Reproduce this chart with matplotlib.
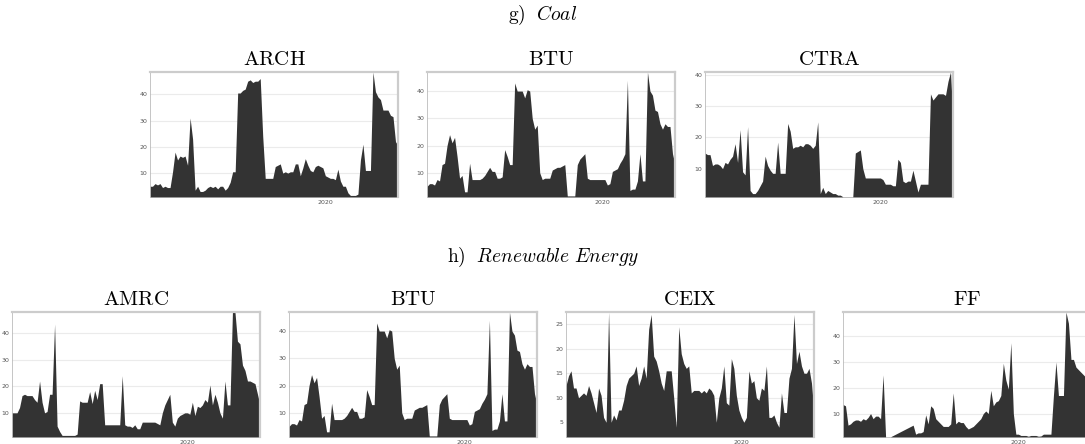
import numpy as np
import pandas as pd
import matplotlib
matplotlib.use("Agg")
import matplotlib.pyplot as plt
from matplotlib.ticker import MultipleLocator

plt.rcParams["mathtext.fontset"] = "cm"

# =========================
# DATOS
# =========================
start_date = "2018-01-01"
end_date = "2020-11-01"

arch = [5, 5, 6, 5.5, 6, 4.5, 5, 4.5, 4.5, 10.5,
        18, 15, 16.5, 16, 16.5, 13, 31, 23, 3.5, 5,
        3, 3, 3.5, 4.5, 5, 4.5, 5, 4, 5, 5,
        3.5, 4.5, 6.5, 10.5, 10.5, 40.5, 40.5, 41.5, 42, 45,
        45.5, 44.5, 45, 45, 46, 24, 8, 8, 8, 8,
        12.5, 13, 13.5, 10, 10.5, 10, 10.5, 10.5, 13.5, 13.5,
        9, 12, 15.5, 13, 11, 10.5, 12.5, 13, 12.5, 12,
        9, 8.5, 8, 8, 7.5, 11.5, 7, 5, 5, 2.5,
        1.5, 1.5, 1.5, 2, 15, 21, 11, 11, 11, 48.5,
        41, 39, 38, 34, 34, 34, 32, 31.5, 22, 20.5]

btu = [5, 6, 6, 5.5, 7.5, 7, 13, 13.5, 20, 24,
       21, 23, 16, 8, 9, 3, 3, 13.5, 7.5, 7.5,
       7.5, 7.5, 8, 9, 10.5, 12, 10.5, 10.5, 8, 8,
       8.5, 18.5, 16, 13, 13, 43, 40, 40, 40, 37.5,
       40.5, 40, 30, 26, 27.5, 10, 7.5, 8, 8, 8,
       11, 11.5, 12, 12, 12.5, 13, 1.5, 1.5, 1.5, 1.5,
       13, 15, 16, 17, 8, 7.5, 7.5, 7.5, 7.5, 7.5,
       7.5, 7.5, 5.5, 6, 10.5, 11, 11.5, 13.5, 15, 17,
       44, 3.5, 4, 4, 7, 17, 7, 7, 47, 40,
       38.5, 33, 32.5, 28, 26, 28, 27, 27, 17, 13]

ctra = [15, 14.5, 14.5, 11, 11.5, 11.5, 11, 10, 12, 11.5,
        13, 14, 18, 12, 22.5, 9, 8, 23.5, 3, 2,
        2, 3, 4.5, 6, 14, 11, 9.5, 8.5, 8.5, 18.5,
        8.5, 8.5, 8.5, 24.5, 22, 16.5, 17, 17, 17.5, 17,
        18, 18, 17.5, 16.5, 17.5, 25, 2, 4, 2, 3,
        2.5, 2, 2, 1.5, 1.5, 1, 1, 1, 1, 1,
        15, 15.5, 16, 10, 7, 7, 7, 7, 7, 7,
        7, 6.5, 5, 5, 5, 4.5, 4.5, 13, 12, 6,
        5.5, 6, 6, 9.5, 6, 2.5, 5, 5, 5, 5,
        34, 32, 33, 34, 34, 34, 33.5, 38, 41, 26]

amrc = [10, 10, 10, 12, 16.5, 17, 16.5, 16.5, 16.5, 15,
        14, 22, 14, 10, 10.5, 17, 17, 43.5, 5, 3,
        1.5, 1.5, 1.5, 1.5, 1.5, 1.5, 2, 14.5, 14, 14,
        14, 18, 13.5, 18.5, 15, 21, 21, 5.5, 5.5, 5.5,
        5.5, 5.5, 5.5, 5.5, 24, 5.5, 5, 5, 4.5, 5.5,
        4, 4, 6.5, 6.5, 6.5, 6.5, 6.5, 6.5, 6, 5.5,
        10, 13, 15, 17, 6.5, 5, 8, 9, 9.5, 10,
        10, 9.5, 14, 9, 12.5, 12, 13, 15, 14, 20.5,
        13, 17, 14, 10, 8, 22, 13, 13, 48, 48,
        37, 36, 28, 26, 22, 22, 21.5, 21, 17, 13]

ceix = [12.5, 14.5, 15.5, 12, 12, 10, 10.5, 11, 10.5, 12.5,
        11, 9, 7, 12, 10.5, 6, 5, 27.5, 5, 6.5,
        5.5, 7.5, 7.5, 9.5, 12.5, 14, 14.5, 15, 16.5, 12.5,
        14, 16.5, 14, 24, 27, 18.5, 17.5, 15.5, 13, 11.5,
        15.5, 15.5, 15.5, 10, 4, 24.5, 19, 17, 16, 16.5,
        11, 11.5, 11.5, 11.5, 11, 11.5, 11, 12, 11.5, 10.5,
        5, 10, 12, 16.5, 9, 8.5, 18, 16, 10.5, 7.5,
        6, 5, 6, 15.5, 13, 13.5, 10, 9.5, 12, 11.5,
        16.5, 6, 6, 6.5, 5, 4, 11, 7, 7, 14,
        16, 27, 17, 19.5, 16.5, 15, 15, 16, 13, 7]

ff = [13.5, 13, 5.5, 6, 7, 7.5, 7.5, 7, 8, 7.5,
      8.5, 10, 8, 9, 9, 8, 25, 1, 1, 1,
      1.5, 2, 2.5, 3, 3.5, 4, 4.5, 5, 5.5, 2,
      2.5, 2.5, 3, 9.5, 6, 13, 12, 8, 7, 6,
      5, 5, 5, 6, 18, 6, 7, 6.5, 6.5, 5,
      4, 4.5, 5, 6, 7, 8, 10, 11, 10, 19,
      13, 14.5, 15, 17, 29.5, 23, 19.5, 37.5, 10, 2,
      2, 1.5, 1.5, 1.5, 1.2, 1.5, 1.5, 1.5, 1.2, 1.3,
      2, 2, 2, 2, 17, 30, 17, 17, 17, 49.4,
      45, 31, 31, 28, 27, 26, 25, 24, 24, 23]

coal_names = ["ARCH", "BTU", "CTRA"]
coal_series = [arch, btu, ctra]
coal_ymin = [0.9, 1.1, 0.9]
coal_ystep = [10, 10, 10]

renew_names = ["AMRC", "BTU", "CEIX", "FF"]
renew_series = [amrc, btu, ceix, ff]
renew_ymin = [0.9, 1.1, 2.0, 0.9]
renew_ystep = [10, 10, 5, 10]


# =========================
# FUNCION DE DIBUJO
# =========================
def draw_panel(ax, name, values, ymin, ystep):
    dates = pd.date_range(start_date, end_date, periods=len(values))
    ax.fill_between(dates, ymin, values, color="#333333", linewidth=0)
    ax.set_xlim(dates[0], dates[-1])
    ax.set_ylim(ymin, max(values))
    ax.yaxis.set_major_locator(MultipleLocator(ystep))
    ax.set_xticks([pd.Timestamp("2020-01-01")])
    ax.set_xticklabels(["2020"])
    ax.grid(axis="y", color="#ebebeb", linewidth=0.8)
    ax.set_axisbelow(True)
    ax.tick_params(labelsize=4.5, labelcolor="#555555", length=0, pad=2)
    ax.spines["left"].set_color("#bbbbbb")
    ax.spines["left"].set_linewidth(0.6)
    ax.spines["top"].set_color("#cccccc")
    ax.spines["top"].set_linewidth(1.6)
    ax.spines["right"].set_color("#cccccc")
    ax.spines["right"].set_linewidth(1.6)
    ax.spines["bottom"].set_visible(False)
    ax.set_title(r"$\mathrm{" + name + "}$", fontsize=15, pad=5)


# =========================
# GRAFICO
# =========================
fig = plt.figure(figsize=(10.85, 4.44), dpi=100)

w = 248 / 1085
h = 125 / 444

coal_left = [150, 427, 705]
for left, name, vals, ymin, step in zip(coal_left, coal_names, coal_series, coal_ymin, coal_ystep):
    ax = fig.add_axes([left / 1085, (444 - 197) / 444, w, h])
    draw_panel(ax, name, vals, ymin, step)

renew_left = [12, 289, 566, 843]
for left, name, vals, ymin, step in zip(renew_left, renew_names, renew_series, renew_ymin, renew_ystep):
    ax = fig.add_axes([left / 1085, (444 - 437) / 444, w, h])
    draw_panel(ax, name, vals, ymin, step)

fig.text(0.5, 1 - 15 / 444, r"$\mathrm{g)}\ \ Coal$", ha="center", va="center", fontsize=14)
fig.text(0.5, 1 - 257 / 444, r"$\mathrm{h)}\ \ Renewable\ Energy$", ha="center", va="center", fontsize=14)

fig.savefig("out.png", dpi=100)
